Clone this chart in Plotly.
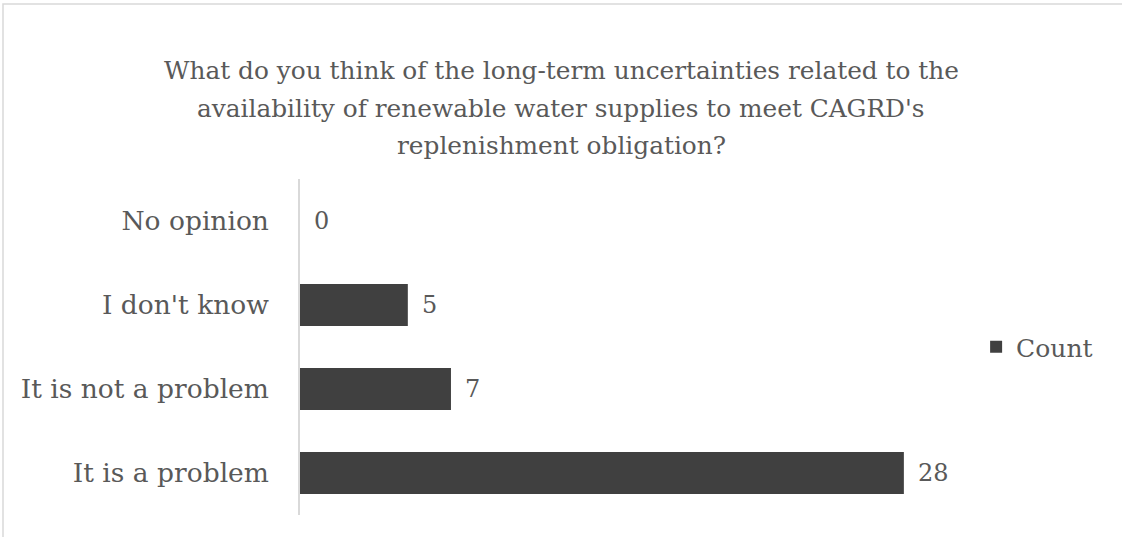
import plotly.graph_objects as go

categories = ["It is a problem", "It is not a problem", "I don't know", "No opinion"]
counts = [28, 7, 5, 0]
series_name = "Count"
title_lines = [
    "What do you think of the long-term uncertainties related to the",
    "availability of renewable water supplies to meet CAGRD's",
    "replenishment obligation?",
]

FONT = "Palatino Linotype, Book Antiqua, Palatino, DejaVu Serif, serif"
GREY = "#595959"
BAR = "#404040"

W, H = 1122, 537
L, R, T, B = 300, 175, 179, 22
PW, PH = W - L - R, H - T - B

fig = go.Figure()
fig.add_trace(go.Bar(
    y=categories, x=counts, orientation="h", name=series_name,
    marker=dict(color=BAR, line=dict(width=0)),
    showlegend=True,
))

for c, v in zip(categories, counts):
    fig.add_annotation(x=v, y=c, text=str(v), showarrow=False, xanchor="left",
                       xshift=12, font=dict(family=FONT, size=24, color=GREY))

# title lines as separate annotations for Excel-like line spacing
for i, line in enumerate(title_lines):
    fig.add_annotation(xref="paper", yref="paper", x=(W / 2 - L) / PW,
                       y=1 + (T - (70 + 38 * i)) / PH, text=line, showarrow=False,
                       xanchor="center", yanchor="middle",
                       font=dict(family=FONT, size=24.8, color=GREY))

fig.update_layout(
    width=W, height=H,
    margin=dict(l=L, r=R, t=T, b=B),
    paper_bgcolor="white", plot_bgcolor="white",
    bargap=0.5,
    font=dict(family=FONT, color=GREY),
    legend=dict(x=1.045, y=0.5, xanchor="left", yanchor="middle",
                font=dict(family=FONT, size=25, color=GREY), bgcolor="rgba(0,0,0,0)"),
    xaxis=dict(range=[0, 30], visible=False, showgrid=False, zeroline=False),
    yaxis=dict(showgrid=False, zeroline=False, showline=True, linecolor="#d9d9d9",
               linewidth=1.5, ticks="", ticklabelstandoff=24,
               tickfont=dict(family=FONT, size=26.5, color=GREY)),
)

fig.add_shape(type="rect", xref="paper", yref="paper",
              x0=(3 - L) / PW, x1=(W + 10 - L) / PW,
              y0=-(B + 10) / PH, y1=1 + (T - 4) / PH,
              line=dict(color="#d9d9d9", width=1.5), layer="below")

fig.write_html("out.html")
